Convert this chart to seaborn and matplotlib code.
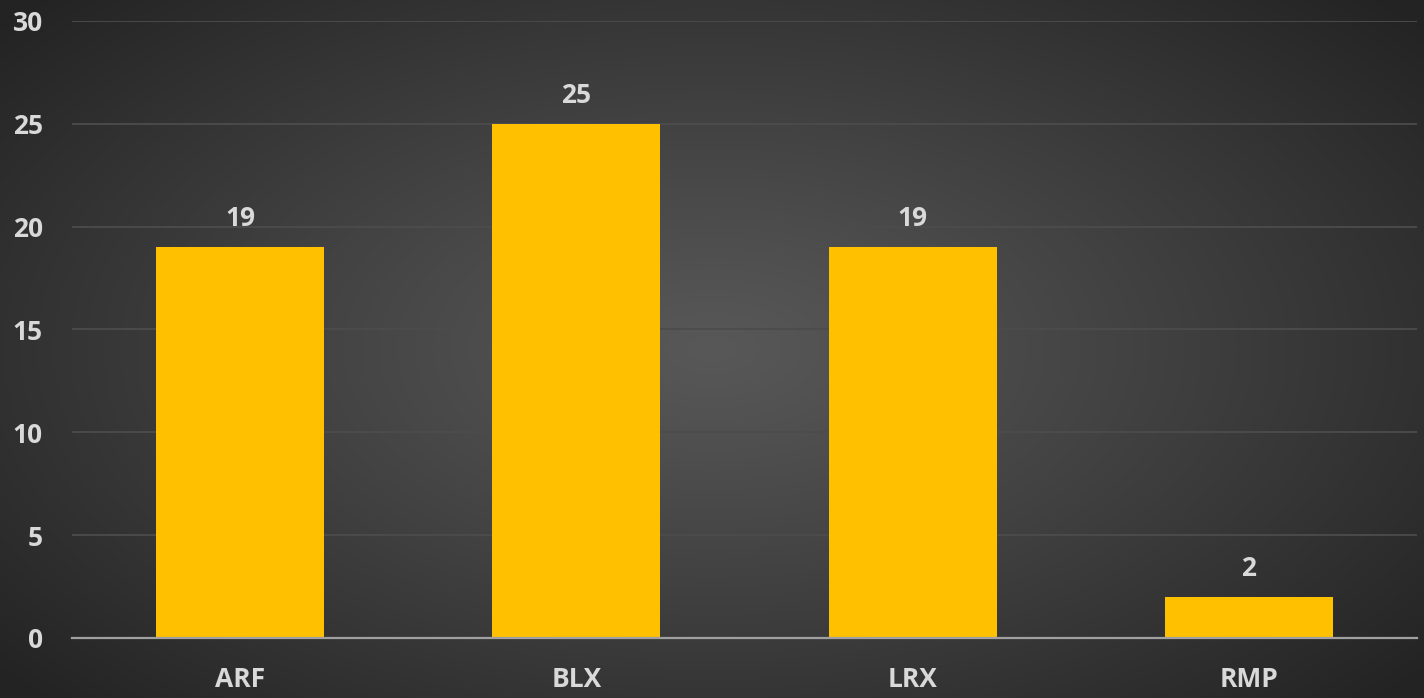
import numpy as np
import pandas as pd
import matplotlib
matplotlib.use("Agg")
import matplotlib.pyplot as plt
import seaborn as sns

# -----------------------------
# Data
# -----------------------------
categories = ["ARF", "BLX", "LRX", "RMP"]
values = [19, 25, 19, 2]
y_ticks = [0, 5, 10, 15, 20, 25, 30]

df = pd.DataFrame({"category": categories, "value": values})

# -----------------------------
# Style
# -----------------------------
sns.set_style("dark")
plt.rcParams["font.family"] = ["Open Sans", "DejaVu Sans"]
plt.rcParams["font.weight"] = "bold"
text_color = "#D9D9D9"
bar_color = "#FFC000"

fig = plt.figure(figsize=(14.24, 6.98), dpi=100)

# radial gradient background
bg = fig.add_axes([0, 0, 1, 1], zorder=0)
xx, yy = np.meshgrid(np.linspace(-1, 1, 712), np.linspace(-1, 1, 349))
r = np.sqrt(xx ** 2 + (yy * 0.9) ** 2)
r = np.clip(r / 1.3, 0, 1)
shade = 0.345 - (0.345 - 0.14) * r ** 1.1
img = np.dstack([shade, shade, shade])
bg.imshow(img, extent=[0, 1, 0, 1], aspect="auto", interpolation="bilinear")
bg.axis("off")

ax = fig.add_axes([0.0506, 0.086, 0.9445, 0.884], zorder=1)
ax.patch.set_alpha(0)

sns.barplot(data=df, x="category", y="value", color=bar_color,
            width=0.5, saturation=1, linewidth=0, edgecolor="none",
            ax=ax, zorder=3)

ax.set_ylim(0, 30)
ax.set_xlim(-0.5, len(categories) - 0.5)
ax.set_yticks(y_ticks)
ax.grid(axis="y", color="#4C4C4C", linewidth=1.3, zorder=0)
ax.grid(axis="x", visible=False)
ax.set_axisbelow(True)

for s in ["top", "right", "left"]:
    ax.spines[s].set_visible(False)
ax.spines["bottom"].set_color("#A0A0A0")
ax.spines["bottom"].set_linewidth(1.6)
ax.spines["bottom"].set_zorder(4)

ax.tick_params(axis="both", length=0, colors=text_color, labelsize=19)
ax.tick_params(axis="y", pad=21)
ax.tick_params(axis="x", pad=20)
ax.set_xlabel("")
ax.set_ylabel("")

# value labels
for c in ax.containers:
    ax.bar_label(c, padding=11, color=text_color, fontsize=19, fontweight="bold")

fig.savefig("out.png", dpi=100)
